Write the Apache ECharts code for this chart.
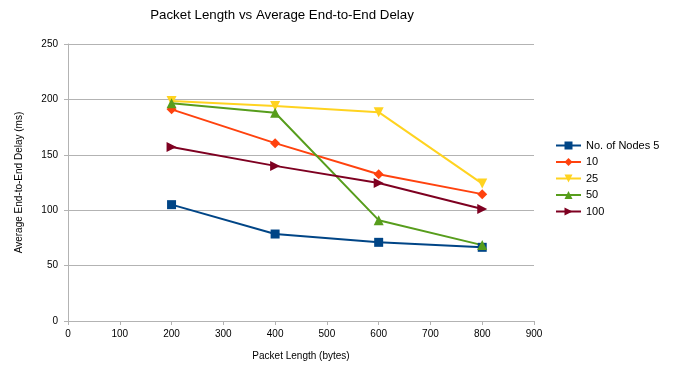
<!DOCTYPE html>
<html>
<head>
<meta charset="utf-8">
<script src="https://cdn.jsdelivr.net/npm/echarts@6/dist/echarts.min.js"></script>
<style>
  html, body { margin: 0; padding: 0; background: #fff; }
  #main { width: 676px; height: 367px; }
</style>
</head>
<body>
<div id="main"></div>
<script>
// packet lengths (bytes)
var packetLength = [200, 400, 600, 800];

// average end-to-end delay (ms) per node count
var nodes5 = [105, 78.5, 71, 66.5];
var nodes10 = [191, 160.5, 132.5, 114.5];
var nodes25 = [198.5, 194, 188.5, 124];
var nodes50 = [196.5, 188, 91, 68.5];
var nodes100 = [157, 140, 124.5, 101];

var seriesNames = ['No. of Nodes 5', '10', '25', '50', '100'];
var seriesValues = [nodes5, nodes10, nodes25, nodes50, nodes100];
var colors = ['#004586', '#ff420e', '#ffd320', '#579d1c', '#7e0021'];
var symbols = ['rect', 'diamond', 'triangle', 'triangle', 'triangle'];
var rotations = [0, 0, 180, 0, -90];

function pairs(vals) {
  var out = [];
  for (var i = 0; i < packetLength.length; i++) {
    out.push([packetLength[i], vals[i]]);
  }
  return out;
}

var series = [];
for (let i = 0; i < seriesNames.length; i++) {
  series.push({
    name: seriesNames[i],
    type: 'line',
    data: pairs(seriesValues[i]),
    symbol: symbols[i],
    symbolSize: i == 0 ? 9 : 10,
    symbolRotate: rotations[i],
    showAllSymbol: true,
    lineStyle: { width: 2, color: colors[i] },
    itemStyle: { color: colors[i] },
    emphasis: { disabled: true }
  });
}

var myChart = echarts.init(document.getElementById('main'), null, { renderer: 'canvas' });

var option = {
  animation: false,
  color: colors,
  title: {
    text: 'Packet Length vs Average End-to-End Delay',
    left: 277,
    textAlign: 'center',
    top: 4,
    textStyle: { fontFamily: 'Liberation Sans', fontSize: 13.3, fontWeight: 'normal', color: '#000' }
  },
  legend: {
    orient: 'vertical',
    left: 550,
    top: 135,
    itemGap: 5.5,
    itemWidth: 25,
    itemHeight: 10,
    textStyle: { fontFamily: 'Liberation Sans', fontSize: 11, color: '#000' },
    data: seriesNames
  },
  grid: {
    left: 68,
    right: 142,
    top: 44,
    bottom: 46
  },
  xAxis: {
    type: 'value',
    min: 0,
    max: 900,
    interval: 100,
    name: 'Packet Length (bytes)',
    nameLocation: 'middle',
    nameGap: 30,
    nameTextStyle: { fontFamily: 'Liberation Sans', fontSize: 10, color: '#000' },
    axisLine: { show: true, lineStyle: { color: '#b3b3b3' } },
    axisTick: { show: true, length: 4, lineStyle: { color: '#b3b3b3' } },
    axisLabel: { fontFamily: 'Liberation Sans', fontSize: 10, color: '#000', margin: 8 },
    splitLine: { show: false }
  },
  yAxis: {
    type: 'value',
    min: 0,
    max: 250,
    interval: 50,
    name: 'Average End-to-End Delay (ms)',
    nameLocation: 'middle',
    nameGap: 44,
    nameTextStyle: { fontFamily: 'Liberation Sans', fontSize: 10, color: '#000' },
    axisLine: { show: true, lineStyle: { color: '#b3b3b3' } },
    axisTick: { show: true, length: 4, lineStyle: { color: '#b3b3b3' } },
    axisLabel: { fontFamily: 'Liberation Sans', fontSize: 10, color: '#000', margin: 10 },
    splitLine: { show: true, lineStyle: { color: '#b3b3b3' } }
  },
  series: series
};

myChart.setOption(option);
window.addEventListener('resize', myChart.resize);
</script>
</body>
</html>
